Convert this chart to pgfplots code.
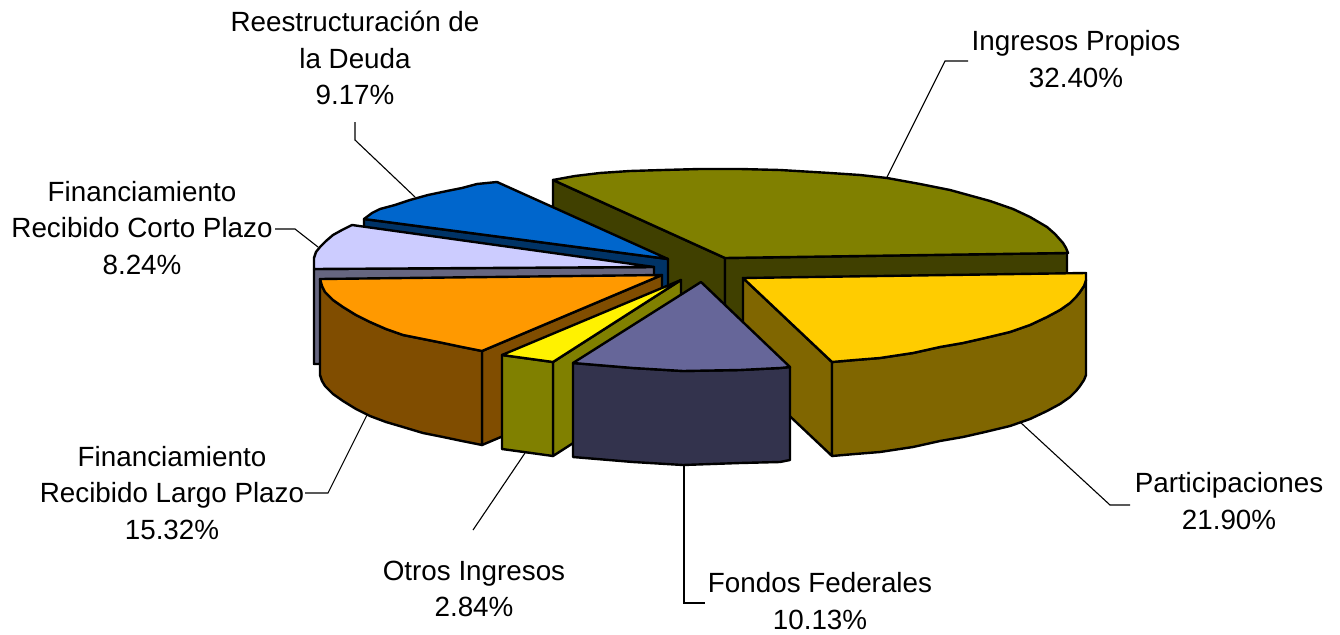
\documentclass[border=0pt]{standalone}
\usepackage{fontspec}
\setmainfont{Liberation Sans}
\usepackage{pgfplots}
\pgfplotsset{compat=1.18}
\definecolor{olive1}{HTML}{808000}
\definecolor{olive2}{HTML}{404000}
\definecolor{gold1}{HTML}{FFCC00}
\definecolor{gold2}{HTML}{806600}
\definecolor{fed1}{HTML}{666699}
\definecolor{fed2}{HTML}{33334D}
\definecolor{or1}{HTML}{FF9900}
\definecolor{or2}{HTML}{804D00}
\definecolor{lav1}{HTML}{CCCCFF}
\definecolor{lav2}{HTML}{666680}
\definecolor{blu1}{HTML}{0066CC}
\definecolor{blu2}{HTML}{003366}
\tikzset{
  face/.style={draw=black,line width=2.4pt,line join=round},
  lead/.style={draw=black,line width=1.1pt},
  lab/.style={align=center,inner sep=0pt,font=\fontsize{27.8}{36.6}\selectfont}}
\begin{document}
\begin{tikzpicture}[x=1pt,y=1pt]
\useasboundingbox (0,0) rectangle (1340,634);
\begin{axis}[at={(0,0)},anchor=south west,scale only axis,width=1340pt,height=634pt,
  xmin=0,xmax=1340,ymin=0,ymax=634,y dir=reverse,hide axis,clip=false]
% leader lines
\addplot[lead] coordinates {(887,177) (945,61) (968,61)};
\addplot[lead] coordinates {(1020,422) (1110,505) (1130,505)};
\addplot[lead] coordinates {(684,465) (684,603) (705,603)};
\addplot[lead] coordinates {(525,453) (473,530)};
\addplot[lead] coordinates {(367,415) (328,493) (305,493)};
\addplot[lead] coordinates {(318,247) (295,229) (275,229)};
\addplot[lead] coordinates {(415,197) (355,140) (355,122)};
% Ingresos Propios
\addplot[face,fill=olive2] coordinates {(553,180) (725,258) (725,352) (553,274)} --cycle;
\addplot[face,fill=olive2] coordinates {(725,258) (1067,253) (1067,347) (725,352)} --cycle;
\addplot[face,fill=olive1] coordinates {(553,180) (575,176) (600,173) (630,171) (663,170) (700,169) (740,169) (780,170) (830,173) (860,175) (887,178) (920,184) (950,190) (990,201) (1013,209) (1030,217) (1047,227) (1055,234) (1063,243) (1066,248) (1068,253) (725,258)} --cycle;
% Reestructuracion
\addplot[face,fill=blu2] coordinates {(364,219) (668,259) (668,353) (364,313)} --cycle;
\addplot[face,fill=blu1] coordinates {(364,219) (372,213) (380,209) (395,205) (410,200) (428,195) (447,191) (462,188) (477,184) (497,182) (668,259)} --cycle;
% Corto plazo
\addplot[face,fill=lav2] coordinates {(314,269) (654,267) (654,360) (314,364)} --cycle;
\addplot[face,fill=lav1] coordinates {(314,269) (314,258) (316,252) (320,247) (326,241) (333,235) (342,230) (352,225) (654,267)} --cycle;
% Largo plazo
\addplot[face,fill=or2] coordinates {(482,351) (662,275) (662,369) (482,445)} --cycle;
\addplot[face,fill=or2] coordinates {(320,279) (322,286) (325,292) (333,300) (343,307) (356,315) (370,322) (386,329) (403,335) (423,339) (443,343) (462,347) (482,351) (482,445) (462,441) (443,437) (423,433) (403,427) (386,422) (370,416) (356,409) (343,401) (333,394) (325,386) (322,381) (320,375)} --cycle;
\addplot[face,fill=or1] coordinates {(320,279) (322,286) (325,292) (333,300) (343,307) (356,315) (370,322) (386,329) (403,335) (423,339) (443,343) (462,347) (482,351) (662,275)} --cycle;
% Participaciones
\addplot[face,fill=gold2] coordinates {(743,278) (832,362) (832,456) (743,372)} --cycle;
\addplot[face,fill=gold2] coordinates {(832,362) (855,360) (880,358) (913,353) (940,347) (963,343) (985,338) (1010,332) (1030,325) (1047,317) (1060,310) (1070,303) (1076,297) (1080,292) (1084,286) (1086,280) (1086,375) (1084,380) (1080,386) (1076,391) (1070,397) (1060,404) (1047,411) (1030,419) (1010,426) (985,432) (963,437) (940,441) (913,447) (880,452) (855,454) (832,456)} --cycle;
\addplot[face,fill=gold1] coordinates {(743,278) (1086,273) (1086,280) (1084,286) (1080,292) (1076,297) (1070,303) (1060,310) (1047,317) (1030,325) (1010,332) (985,338) (963,343) (940,347) (913,353) (880,358) (855,360) (832,362)} --cycle;
% Otros
\addplot[face,fill=olive1] coordinates {(553,362) (681,280) (681,374) (553,456)} --cycle;
\addplot[face,fill=olive1] coordinates {(502,355) (553,362) (553,456) (502,449)} --cycle;
\addplot[face,fill=yellow] coordinates {(502,355) (553,362) (681,280)} --cycle;
% Fondos
\addplot[face,fill=fed2] coordinates {(573,363) (633,368) (683,371) (740,370) (780,368) (790,367) (790,460) (780,462) (740,463) (683,465) (633,462) (573,457)} --cycle;
\addplot[face,fill=fed1] coordinates {(701,282) (790,367) (780,368) (740,370) (683,371) (633,368) (573,363)} --cycle;
% labels
\node[lab] at (axis cs:1076,59) {Ingresos Propios\\32.40\%};
\node[lab] at (axis cs:1229,501) {Participaciones\\21.90\%};
\node[lab] at (axis cs:820,601) {Fondos Federales\\10.13\%};
\node[lab] at (axis cs:474,589) {Otros Ingresos\\2.84\%};
\node[lab] at (axis cs:172,493) {Financiamiento\\Recibido Largo Plazo\\15.32\%};
\node[lab] at (axis cs:142,228) {Financiamiento\\Recibido Corto Plazo\\8.24\%};
\node[lab] at (axis cs:355,58) {Reestructuración de\\la Deuda\\9.17\%};
\end{axis}
\end{tikzpicture}
\end{document}
